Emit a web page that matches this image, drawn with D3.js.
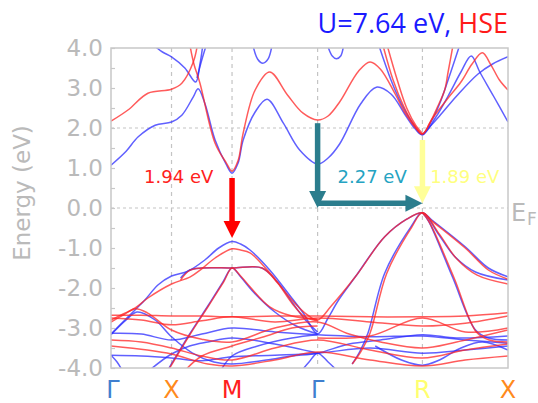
<!DOCTYPE html>
<html>
<head>
<meta charset="utf-8">
<style>
  body { margin: 0; background: #fff; }
  text { font-family: "DejaVu Sans", sans-serif; }
</style>
</head>
<body>
<script src="https://cdn.jsdelivr.net/npm/d3@7/dist/d3.min.js"></script>
<script>
// high-symmetry path: index 0..5 and cumulative |k| distance
var kLabels = ["Γ", "X", "M", "Γ", "R", "X"];
var kColors = ["#3f7fcf", "#ff8a1c", "#ff2020", "#3f7fcf", "#ffff70", "#ff8a1c"];
var kDist = [0, 0.5, 1.0, 1.707, 2.573, 3.28];
var yTicks = [-4, -3, -2, -1, 0, 1, 2, 3, 4];

// bands, [k index, energy eV]
var cbU = [
  [[0,1.07],[0.25,1.42],[0.45,1.78],[0.73,2.07],[1,2.15],[1.17,2.32],[1.36,2.78],[1.44,2.98],[1.55,2.62],[1.72,1.7],[1.9,1.1],[2,0.87],[2.07,1.12],[2.13,1.7],[2.27,2.4],[2.41,2.72],[2.6,2.12],[2.79,1.45],[3,1.1],[3.1,1.25],[3.21,1.6],[3.41,2.6],[3.56,3.02],[3.7,2.85],[3.83,2.35],[3.93,1.98],[4,1.83],[4.15,2.25],[4.3,2.8],[4.45,3.4],[4.57,3.8],[4.67,3.4],[4.83,2.8],[5,2.15]],
  [[4,1.83],[4.2,2.3],[4.4,2.8],[4.65,3.35],[4.82,3.6],[5,3.78]],
  [[3.58,4.1],[3.7,3.2],[3.8,2.6],[3.9,2.15],[4,1.83],[4.1,2.15],[4.2,2.6],[4.3,3.2],[4.44,4.1]],
  [[0.68,4.1],[0.85,3.9],[1,3.78],[1.22,3.5],[1.4,3.15],[1.47,3.6],[1.52,4.1]],
  [[1.42,3.25],[1.5,3.7],[1.58,4.1]],
  [[2.24,4.1],[2.3,3.72],[2.36,3.62],[2.42,3.72],[2.47,4.1]],
  [[3.09,4.1],[3.14,3.8],[3.18,3.73],[3.22,3.8],[3.25,4.1]]
];
var cbHSE = [
  [[0,2.17],[0.28,2.45],[0.61,2.87],[1,2.97],[1.17,3.12],[1.36,3.65],[1.43,4.1]],
  [[1.3,4.1],[1.37,3.6],[1.47,3.12],[1.72,1.62],[1.9,1.14],[2,0.92],[2.07,1.18],[2.13,1.87],[2.27,2.95],[2.44,3.4],[2.65,2.82],[2.83,2.37],[3,2.2],[3.1,2.3],[3.21,2.65],[3.39,3.42],[3.5,3.65],[3.6,3.47],[3.74,2.85],[3.83,2.4],[3.93,2.02],[4,1.85],[4.12,2.25],[4.3,2.75],[4.45,3.15],[4.58,3.6],[4.7,3.88],[4.8,3.58],[4.9,3.2],[5,2.95]],
  [[3.62,4.1],[3.72,3.2],[3.82,2.55],[3.92,2.08],[4,1.85],[4.08,2.1],[4.17,2.5],[4.26,2.95],[4.3,3.4],[4.36,4.1]],
  [[3.66,4.1],[3.76,3.2],[3.85,2.5],[3.94,2.05],[4,1.86]]
];
var vbU = [
  [[0,-3.15],[0.23,-2.8],[0.43,-2.5],[0.56,-2.3],[0.78,-1.92],[1,-1.7],[1.27,-1.58],[1.55,-1.3],[1.78,-1.0],[2,-0.84],[2.1,-0.9],[2.21,-1.05],[2.44,-1.55],[2.68,-2.2],[2.83,-2.62],[3,-3.15],[3.1,-2.75],[3.2,-2.3],[3.36,-1.72],[3.64,-0.72],[3.85,-0.28],[4,-0.12],[4.11,-0.3],[4.5,-0.97],[4.77,-1.5],[5,-1.72]],
  [[3.33,-3.9],[3.4,-3.6],[3.48,-3.13],[3.64,-1.63],[3.89,-0.47],[4,-0.12],[4.18,-0.63],[4.38,-1.22],[4.62,-1.6],[5,-1.8]],
  [[4,-0.12],[4.07,-0.32],[4.35,-1.72],[4.62,-3.05],[4.77,-3.25],[5,-3.3]],
  [[0.92,-4.1],[1.3,-3.15],[1.6,-2.45],[1.85,-1.85],[2,-1.5],[2.1,-1.72],[2.25,-2.1],[2.5,-2.6],[2.75,-2.95],[3,-3.15]],
  [[1.15,-1.75],[1.3,-1.55],[1.5,-1.5],[2,-1.5],[2.35,-1.5],[2.53,-1.85],[2.7,-2.35],[2.85,-2.78],[3,-3.1]],
  [[0,-3.17],[0.25,-2.8],[0.43,-2.6],[0.73,-2.8],[1,-3.22],[1.34,-3.62],[1.7,-3.85],[2,-3.9],[2.4,-3.8],[2.7,-3.7],[3,-3.63],[3.3,-3.4],[3.6,-3.3],[4,-3.17],[4.4,-3.25],[5,-3.2]],
  [[0,-3.13],[0.5,-3.15],[1,-3.3],[1.5,-3.15],[2,-3.0],[2.5,-3.1],[3,-3.17],[3.5,-3.22],[4,-3.2],[4.5,-3.3],[5,-3.38]],
  [[0,-3.68],[0.5,-3.7],[1,-3.75],[1.5,-3.82],[2,-3.72],[2.5,-3.68],[3,-3.63],[3.5,-3.5],[4,-3.63],[4.5,-3.55],[5,-3.45]],
  [[0,-3.68],[0.1,-3.85],[0.2,-4.1]],
  [[2.8,-4.1],[2.9,-3.85],[3,-3.63],[3.1,-3.85],[3.2,-4.1]],
  [[3.55,-3.45],[3.8,-3.8],[4,-3.93],[4.2,-3.8],[4.45,-3.5],[4.7,-3.35],[5,-3.55]],
  [[0.6,-4.1],[1,-3.65],[1.3,-3.45],[1.6,-3.35],[2,-3.25],[2.5,-3.4],[3,-3.63]],
  [[1.8,-4.1],[2,-3.7],[2.3,-3.45],[2.7,-3.25],[3,-3.17]]
];
var vbHSE = [
  [[0,-2.8],[0.2,-2.65],[0.4,-2.5],[0.61,-2.25],[1,-1.9],[1.31,-1.72],[1.5,-1.52],[1.72,-1.25],[2,-1.02],[2.1,-1.05],[2.21,-1.12],[2.44,-1.62],[2.68,-2.25],[2.85,-2.62],[3,-2.8],[3.13,-2.45],[3.36,-1.72],[3.64,-0.72],[3.85,-0.28],[4,-0.12],[4.11,-0.32],[4.5,-1.0],[4.77,-1.55],[5,-1.78]],
  [[3.33,-3.9],[3.41,-3.6],[3.5,-3.13],[3.66,-1.63],[3.9,-0.47],[4,-0.12],[4.2,-0.66],[4.4,-1.27],[4.64,-1.68],[5,-1.9]],
  [[4,-0.12],[4.08,-0.35],[4.37,-1.75],[4.63,-3.1],[4.78,-3.3],[5,-3.35]],
  [[0.93,-4.1],[1.31,-3.15],[1.61,-2.45],[1.86,-1.85],[2,-1.5],[2.1,-1.7],[2.21,-1.97],[2.44,-2.47],[2.7,-2.7],[3,-2.78]],
  [[1.15,-1.8],[1.3,-1.56],[1.5,-1.5],[2,-1.5],[2.35,-1.5],[2.53,-1.87],[2.7,-2.38],[2.85,-2.72],[3,-2.82]],
  [[0,-2.68],[0.5,-2.68],[1,-2.7],[1.5,-2.7],[2,-2.72],[2.5,-2.7],[3,-2.7],[3.5,-2.72],[4,-2.72],[4.5,-2.7],[5,-2.62]],
  [[0,-2.75],[0.5,-2.8],[1,-2.92],[1.5,-2.82],[2,-2.72],[2.5,-2.85],[3,-2.75],[3.5,-2.85],[4,-2.95],[4.5,-2.88],[5,-2.7]],
  [[0,-2.85],[0.2,-2.68],[0.4,-2.52],[0.6,-2.62],[1,-3.05],[1.5,-3.28],[2,-3.35],[2.5,-3.0],[3,-2.85],[3.3,-3.15],[3.6,-3.35],[4,-3.5],[4.4,-3.35],[5,-3.05]],
  [[3,-3.25],[3.5,-3.2],[4,-2.75],[4.5,-3.1],[5,-3.0]],
  [[0,-3.3],[0.5,-3.35],[1,-3.5],[1.5,-3.7],[2,-3.8],[2.5,-3.5],[3,-3.3],[3.5,-3.55],[4,-3.75],[4.5,-3.55],[5,-3.4]],
  [[0,-3.45],[0.6,-3.55],[1,-3.65],[1.6,-3.9],[2,-3.95],[2.5,-3.8],[3,-3.6],[3.5,-3.8],[4,-3.95],[4.5,-3.8],[5,-3.7]],
  [[1.2,-4.1],[1.5,-3.7],[2,-3.45],[2.4,-3.2],[2.7,-3.0],[3,-2.95]]
];

// gap arrows: k, start energy, tip energy
var gapArrows = [
  { k0: 2, e0: 0.75, k1: 2, e1: -0.75, color: "#ff0000" },
  { k0: 3, e0: 2.12, k1: 3, e1: 0.0, color: "#2b7d8d" },
  { k0: 3, e0: 0.12, k1: 4, e1: 0.12, color: "#2b7d8d" },
  { k0: 4, e0: 1.7, k1: 4, e1: 0.12, color: "#ffff99" }
];
var gapLabels = [
  { k: 1.69, e: 0.62, text: "1.94 eV", color: "#ff2020" },
  { k: 3.19, e: 0.62, text: "2.27 eV", color: "#25a3c2", start: true },
  { k: 4.09, e: 0.62, text: "1.89 eV", color: "#ffff80", start: true }
];

var width = 538, height = 403;
var pl = 111, pr = 508, pt = 48, pb = 368;

var xDist = d3.scaleLinear().domain([0, 3.28]).range([pl, pr]);
var x = d3.scaleLinear().domain([0, 1, 2, 3, 4, 5]).range(kDist.map(xDist));
var y = d3.scaleLinear().domain([-4, 4]).range([pb, pt]);

var svg = d3.select("body").append("svg")
    .attr("width", width)
    .attr("height", height);

svg.append("clipPath").attr("id", "plot")
  .append("rect")
    .attr("x", pl).attr("y", pt)
    .attr("width", pr - pl).attr("height", pb - pt);

// grid
svg.append("g").selectAll("line")
  .data([1, 2, 3, 4])
  .enter().append("line")
    .attr("x1", function(d) { return x(d); })
    .attr("x2", function(d) { return x(d); })
    .attr("y1", pt).attr("y2", pb)
    .attr("stroke", "#c4c4c4")
    .attr("stroke-width", 1.2)
    .attr("stroke-dasharray", "4,4");

svg.append("g").selectAll("line")
  .data([2, 0])
  .enter().append("line")
    .attr("x1", pl).attr("x2", pr)
    .attr("y1", function(d) { return y(d); })
    .attr("y2", function(d) { return y(d); })
    .attr("stroke", "#c4c4c4")
    .attr("stroke-width", 1.2)
    .attr("stroke-dasharray", "3,3");

// bands
var line = d3.line()
    .x(function(d) { return x(d[0]); })
    .y(function(d) { return y(d[1]); })
    .curve(d3.curveCatmullRom.alpha(0.5));

var bandG = svg.append("g").attr("clip-path", "url(#plot)");

function drawBands(list, color) {
  bandG.append("g").selectAll("path")
    .data(list)
    .enter().append("path")
      .attr("d", line)
      .attr("fill", "none")
      .attr("stroke", color)
      .attr("stroke-width", 1.5)
      .attr("stroke-opacity", 0.75);
}
drawBands(cbU.concat(vbU), "#2b2bff");
drawBands(cbHSE.concat(vbHSE), "#ff2424");

// frame
svg.append("rect")
    .attr("x", pl).attr("y", pt)
    .attr("width", pr - pl).attr("height", pb - pt)
    .attr("fill", "none")
    .attr("stroke", "#c8c8c8")
    .attr("stroke-width", 1.5);

// inner minor ticks
svg.append("g")
    .attr("transform", "translate(" + pl + ",0)")
    .call(d3.axisRight(y).tickValues(d3.range(-4, 4.01, 0.5)).tickSize(4).tickFormat(""))
    .call(function(g) {
      g.select(".domain").remove();
      g.selectAll("line").attr("stroke", "#c8c8c8").attr("stroke-width", 1.2);
    });

// y labels
svg.append("g")
    .attr("transform", "translate(" + pl + ",0)")
    .call(d3.axisLeft(y).tickValues(yTicks).tickSize(0).tickPadding(8)
      .tickFormat(function(d) { return d.toFixed(1); }))
    .call(function(g) {
      g.select(".domain").remove();
      g.selectAll("text")
        .attr("fill", "#bababa")
        .style("font-size", "23px")
        .style("font-family", "DejaVu Sans");
    });

svg.append("text")
    .attr("transform", "rotate(-90)")
    .attr("x", -193)
    .attr("y", 30)
    .attr("text-anchor", "middle")
    .attr("fill", "#bababa")
    .style("font-size", "23px")
    .text("Energy (eV)");

// k labels
svg.append("g").selectAll("text")
  .data(kLabels)
  .enter().append("text")
    .attr("x", function(d, i) { return x(i) + (i == 0 ? 2 : 0); })
    .attr("y", 398)
    .attr("text-anchor", "middle")
    .attr("fill", function(d, i) { return kColors[i]; })
    .style("font-size", "24px")
    .text(function(d) { return d; });

// E_F
svg.append("text")
    .attr("x", 511).attr("y", 221)
    .attr("fill", "#bababa")
    .style("font-size", "24px")
    .text("E");
svg.append("text")
    .attr("x", 527).attr("y", 225)
    .attr("fill", "#bababa")
    .style("font-size", "17px")
    .text("F");

// title
var title = svg.append("text")
    .attr("x", pr).attr("y", 33)
    .attr("text-anchor", "end")
    .style("font-family", "'Open Sans', sans-serif")
    .style("font-size", "27px");
title.append("tspan").attr("fill", "#1a1aff").text("U=7.64 eV, ");
title.append("tspan").attr("fill", "#ff1a1a").text("HSE");

// arrows
gapArrows.forEach(function(a) {
  var x0 = x(a.k0), y0 = y(a.e0), x1 = x(a.k1), y1 = y(a.e1);
  var len = Math.hypot(x1 - x0, y1 - y0);
  var ux = (x1 - x0) / len, uy = (y1 - y0) / len;
  var hl = 17, hw = 8.5;
  var bx = x1 - ux * hl, by = y1 - uy * hl;
  svg.append("line")
      .attr("x1", x0).attr("y1", y0)
      .attr("x2", bx + ux).attr("y2", by + uy)
      .attr("stroke", a.color)
      .attr("stroke-width", 5.5);
  svg.append("path")
      .attr("d", "M" + x1 + "," + y1 +
                 "L" + (bx - uy * hw) + "," + (by + ux * hw) +
                 "L" + (bx + uy * hw) + "," + (by - ux * hw) + "Z")
      .attr("fill", a.color);
});

svg.append("g").selectAll("text")
  .data(gapLabels)
  .enter().append("text")
    .attr("x", function(d) { return x(d.k); })
    .attr("y", function(d) { return y(d.e); })
    .attr("text-anchor", function(d) { return d.start ? "start" : "end"; })
    .attr("fill", function(d) { return d.color; })
    .style("font-size", "18px")
    .text(function(d) { return d.text; });
</script>
</body>
</html>
